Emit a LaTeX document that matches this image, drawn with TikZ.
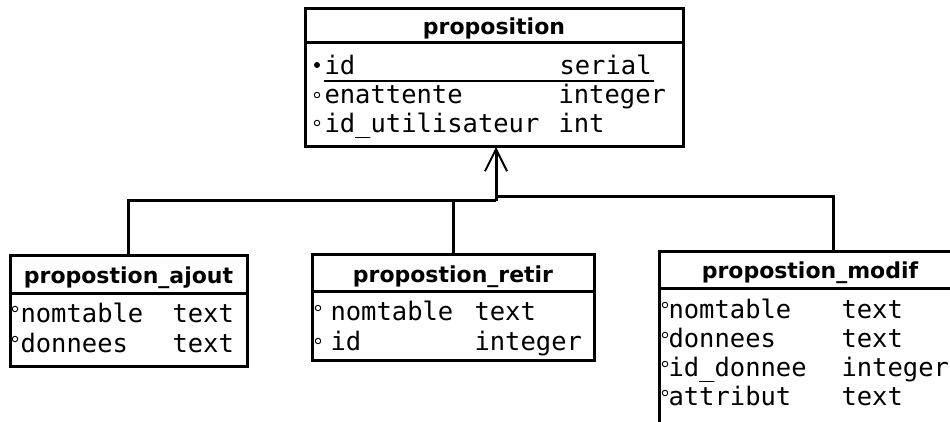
\documentclass[tikz,border=0pt]{standalone}
\usepackage{fontspec}
\setmainfont{DejaVu Sans}
\setmonofont{DejaVu Sans Mono}
\usetikzlibrary{arrows.meta}
\begin{document}
\begin{tikzpicture}[x=1pt,y=-1pt,line width=3pt,
  classbox/.style={draw,rectangle,inner sep=0pt,outer sep=0pt,anchor=north west},
  title/.style={font=\bfseries\fontsize{22}{26}\selectfont,anchor=base,inner sep=0pt},
  attr/.style={font=\ttfamily\fontsize{25.5}{30}\selectfont,anchor=base west,inner sep=0pt},
  pk/.style={circle,fill,inner sep=0pt,minimum size=6pt,line width=0.8pt},
  fk/.style={circle,draw,inner sep=0pt,minimum size=5.5pt,line width=0.9pt},
  link/.style={line width=3pt},
  sep/.style={line width=3pt}]
\clip (0,0) rectangle (950,422);
\fill[white] (0,0) rectangle (950,422);

% proposition
\node[classbox,minimum width=378pt,minimum height=138pt] (prop) at (305,9) {};
\draw[sep] (305,43) -- (683,43);
\node[title] (propT) at (494,35) {proposition};
\node[pk] (propB1) at (317,65) {};
\node[attr] (propN1) at (323,75) {id};
\node[attr] (propY1) at (558,75) {serial};
\draw[line width=1.5pt] (324,81) -- (654,81);
\node[fk] (propB2) at (317,95) {};
\node[attr] (propN2) at (323,104) {enattente};
\node[attr] (propY2) at (557,104) {integer};
\node[fk] (propB3) at (317,123) {};
\node[attr] (propN3) at (323,133) {id\_utilisateur};
\node[attr] (propY3) at (557,133) {int};

% propostion_ajout
\node[classbox,minimum width=237pt,minimum height=111pt] (ajout) at (10,255) {};
\draw[sep] (10,293) -- (247,293);
\node[title] (ajoutT) at (128.5,283) {propostion\_ajout};
\node[fk] (ajoutB1) at (15,309) {};
\node[attr] (ajoutN1) at (19,322) {nomtable};
\node[attr] (ajoutY1) at (171,322) {text};
\node[fk] (ajoutB2) at (15,339) {};
\node[attr] (ajoutN2) at (19,352) {donnees};
\node[attr] (ajoutY2) at (171,352) {text};

% propostion_retir
\node[classbox,minimum width=282pt,minimum height=106pt] (retir) at (312,254) {};
\draw[sep] (312,291) -- (594,291);
\node[title] (retirT) at (453,282) {propostion\_retir};
\node[fk] (retirB1) at (318,308) {};
\node[attr] (retirN1) at (329,320) {nomtable};
\node[attr] (retirY1) at (473,320) {text};
\node[fk] (retirB2) at (318,341) {};
\node[attr] (retirN2) at (329,350) {id};
\node[attr] (retirY2) at (473,350) {integer};

% propostion_modif
\node[classbox,minimum width=348pt,minimum height=200pt] (modif) at (659,251) {};
\draw[sep] (659,288) -- (1007,288);
\node[title] (modifT) at (810,278) {propostion\_modif};
\node[fk] (modifB1) at (665,305) {};
\node[attr] (modifN1) at (667,318) {nomtable};
\node[attr] (modifY1) at (840,318) {text};
\node[fk] (modifB2) at (665,335) {};
\node[attr] (modifN2) at (667,347) {donnees};
\node[attr] (modifY2) at (840,347) {text};
\node[fk] (modifB3) at (665,364) {};
\node[attr] (modifN3) at (667,376) {id\_donnee};
\node[attr] (modifY3) at (840,376) {integer};
\node[fk] (modifB4) at (665,393) {};
\node[attr] (modifN4) at (667,405) {attribut};
\node[attr] (modifY4) at (840,405) {text};

% connectors
\coordinate (jl) at (496,201);
\coordinate (jr) at (496,197);
\draw[link] (ajout.north) |- (jl);
\draw[link] (retir.north) -- (retir.north |- jl);
\draw[link] (modif.north) |- (jr);
\draw[link,-{Straight Barb[length=22pt,width=22pt,line width=2pt]}] (jl) -- (jl |- prop.south);
\end{tikzpicture}
\end{document}
